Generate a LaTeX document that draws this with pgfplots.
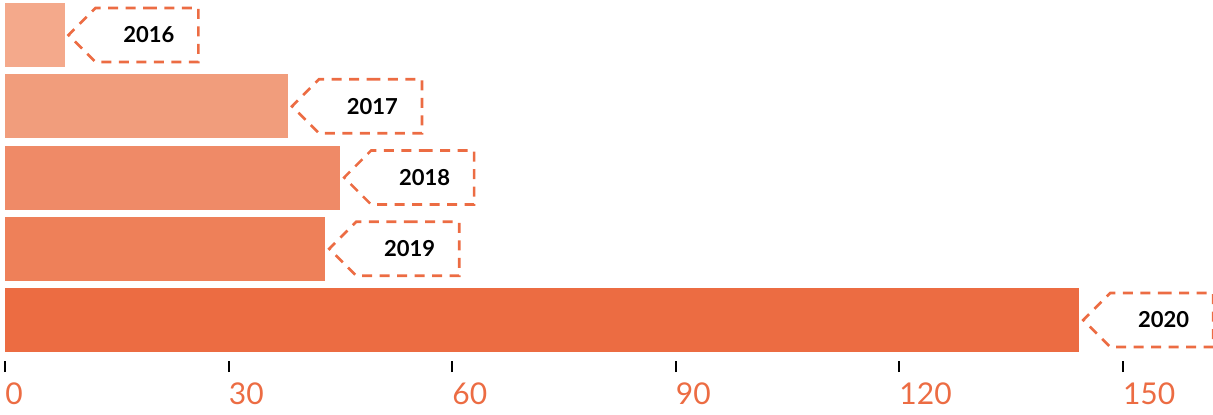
\documentclass[border=0pt]{standalone}
\usepackage{pgfplots}
\pgfplotsset{compat=1.18}
\usepackage{fontspec}
\setmainfont{Lato}
\usetikzlibrary{shapes.symbols}
\definecolor{c16}{RGB}{244,169,139}
\definecolor{c17}{RGB}{241,157,124}
\definecolor{c18}{RGB}{239,138,103}
\definecolor{c19}{RGB}{238,128,89}
\definecolor{c20}{RGB}{236,108,66}
\definecolor{acc}{RGB}{236,108,67}
\begin{document}
\begin{tikzpicture}
\begin{axis}[
  name=ax, at={(0,0)}, anchor=south west,
  scale only axis, width=603.5pt, height=180.5pt,
  xmin=0, xmax=162, ymin=-0.575, ymax=4.491,
  xbar, bar width=32pt, bar shift=0pt,
  axis y line=none, axis x line*=bottom, axis line style={draw=none},
  xtick={0,30,60,90,120,150}, ytick=\empty,
  tick align=outside, major tick length=5.5pt,
  tick style={black, line width=1pt},
  xticklabel style={text=acc, font=\fontsize{15}{18}\selectfont, anchor=north west, inner xsep=0pt, yshift=-2pt},
  /pgf/number format/assume math mode=true,
  clip=false,
  point meta=explicit symbolic,
  nodes near coords,
  nodes near coords align=horizontal,
  every node near coord/.style={
    signal, signal to=west, signal from=nowhere, signal pointer angle=90,
    draw=acc, line width=1.3pt, dash pattern=on 5pt off 3.75pt,
    text=black, font=\bfseries\fontsize{11}{13}\selectfont,
    text width=27.5pt, align=right, inner xsep=12pt, inner ysep=0pt,
    minimum height=27pt, anchor=west, xshift=1pt},
]
\addplot[draw=none, fill=c16] coordinates {(8,4) [2016]};
\addplot[draw=none, fill=c17] coordinates {(38,3) [2017]};
\addplot[draw=none, fill=c18] coordinates {(45,2) [2018]};
\addplot[draw=none, fill=c19] coordinates {(43,1) [2019]};
\addplot[draw=none, fill=c20] coordinates {(144.2,0) [2020]};
\end{axis}
\pgfresetboundingbox
\path[use as bounding box] (-2.5pt,-26.5pt) rectangle (604pt,180.5pt);
\end{tikzpicture}
\end{document}
